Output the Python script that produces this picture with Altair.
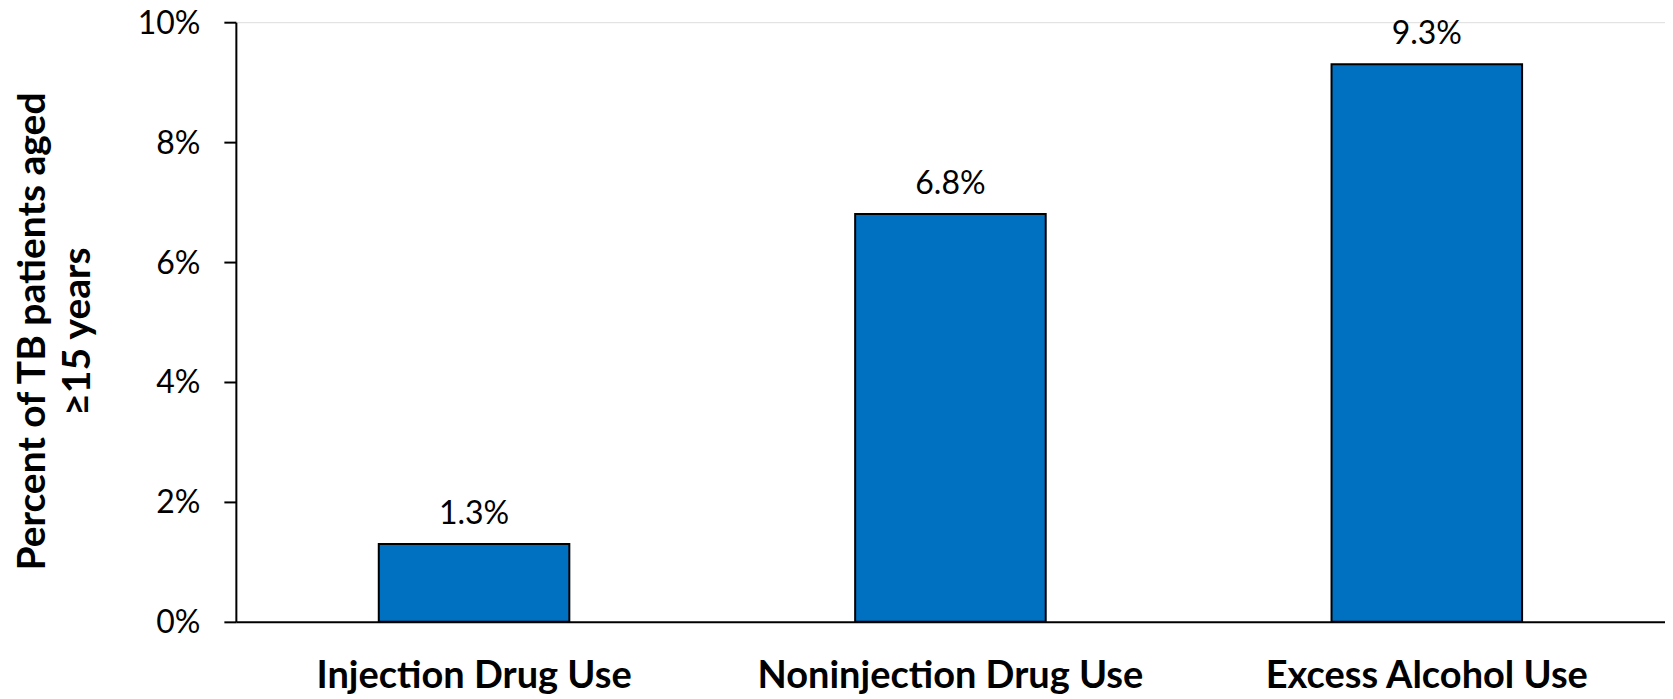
import altair as alt
import pandas as pd

categories = ["Injection Drug Use", "Noninjection Drug Use", "Excess Alcohol Use"]
values = [1.3, 6.8, 9.3]
labels = ["1.3%", "6.8%", "9.3%"]
y_ticks = [0, 2, 4, 6, 8, 10]

df = pd.DataFrame({"cat": categories, "val": values, "lab": labels})

FONT = "Lato"

x = alt.X(
    "cat:N",
    sort=categories,
    scale=alt.Scale(paddingInner=0.6, paddingOuter=0.3),
    axis=alt.Axis(
        title=None,
        labelAngle=0,
        labelFont=FONT,
        labelFontWeight="bold",
        labelFontSize=38,
        labelColor="black",
        labelBaseline="alphabetic",
        labelPadding=66,
        labelLimit=0,
        ticks=False,
        domainColor="black",
        domainWidth=2,
    ),
)
y = alt.Y(
    "val:Q",
    scale=alt.Scale(domain=[0, 10], nice=False),
    axis=alt.Axis(
        values=y_ticks,
        labelExpr="datum.value + '%'",
        title=["Percent of TB patients aged", "≥15 years"],
        titleFont=FONT,
        titleFontWeight="bold",
        titleFontSize=39,
        titleColor="black",
        titleAngle=-90,
        titleAlign="center",
        titleBaseline="top",
        titleX=-222,
        titleY=309,
        titleLineHeight=45,
        labelFont=FONT,
        labelFontSize=32,
        labelColor="black",
        labelBaseline="alphabetic",
        labelOffset=11,
        labelPadding=24,
        tickSize=12,
        tickColor="black",
        tickWidth=2,
        domainColor="black",
        domainWidth=2,
        grid=False,
    ),
)

bars = alt.Chart(df).mark_bar(color="#0070C0", stroke="black", strokeWidth=2).encode(x=x, y=y)
text = alt.Chart(df).mark_text(
    font=FONT, fontSize=32, color="black", dy=-20, baseline="alphabetic"
).encode(x=alt.X("cat:N", sort=categories), y="val:Q", text="lab:N")

chart = (
    alt.layer(bars, text)
    .properties(
        width=1430,
        height=600,
        autosize=alt.AutoSizeParams(type="none"),
        padding={"left": 228, "top": 14, "right": 0, "bottom": 77},
    )
    .configure_view(stroke=None)
    .configure(background="white")
)

chart.save("out.html", embed_options={"renderer": "svg", "actions": False})
